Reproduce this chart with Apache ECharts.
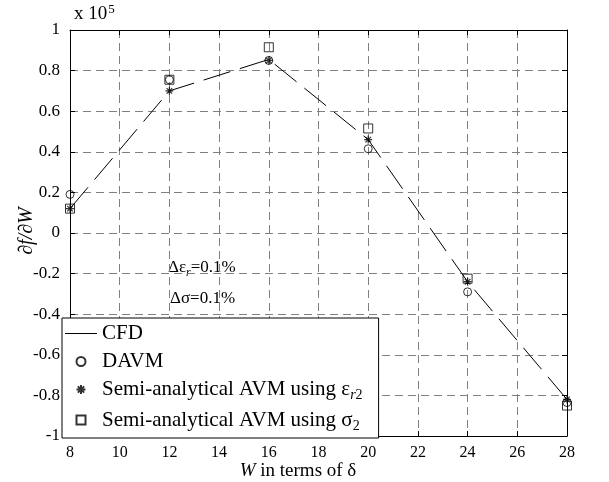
<!DOCTYPE html>
<html><head><meta charset="utf-8">
<script src="https://cdn.jsdelivr.net/npm/echarts@6/dist/echarts.min.js"></script>
<style>html,body{margin:0;padding:0;background:#fff}#c{width:609px;height:482px}</style>
</head><body><div id="c"></div>
<script>
var W = [8, 12, 16, 20, 24, 28];
var cfd = [0.12, 0.70, 0.855, 0.46, -0.24, -0.82];
var davm = [0.19, 0.755, 0.85, 0.415, -0.29, -0.835];
var semiEps = [0.12, 0.70, 0.85, 0.46, -0.24, -0.82];
var semiSigma = [0.12, 0.755, 0.915, 0.515, -0.225, -0.85];
var xTicks = [8, 10, 12, 14, 16, 18, 20, 22, 24, 26, 28];
var yTicks = [-1, -0.8, -0.6, -0.4, -0.2, 0, 0.2, 0.4, 0.6, 0.8, 1];

function pairs(ys){ return W.map(function(x,i){ return [x, ys[i]]; }); }
var font = 'Liberation Serif';
var star = 'path://M0,-5L0,5M-5,0L5,0M-3.5,-3.5L3.5,3.5M-3.5,3.5L3.5,-3.5';
var circ = 'path://M5,0A5,5,0,1,1,5,10A5,5,0,1,1,5,0Z';
var sq = 'path://M0,0L10,0L10,10L0,10Z';
var lineIcon = 'path://M0,0L32,0L32,1L0,1Z';

var chart = echarts.init(document.getElementById('c'), null, {renderer:'canvas'});
var grid = {left:70, right:42, top:30, bottom:46};
var gridLine = {show:true, lineStyle:{color:'#808080', type:[8,5], width:1}};
var subPad = [12,0,0,0];
chart.setOption({
  animation:false,
  backgroundColor:'#fff',
  grid: grid,
  xAxis: [{
    type:'value', min:8, max:28, interval:2,
    axisLine:{onZero:false, lineStyle:{color:'#000', width:1}},
    axisTick:{inside:true, length:5, lineStyle:{color:'#000'}},
    axisLabel:{color:'#000', fontFamily:font, fontSize:16, margin:9},
    splitLine: gridLine
  },{
    type:'value', position:'top', min:8, max:28, interval:2,
    axisLine:{onZero:false, lineStyle:{color:'#000', width:1}},
    axisTick:{inside:true, length:5, lineStyle:{color:'#000'}},
    axisLabel:{show:false}, splitLine:{show:false}
  }],
  yAxis: [{
    type:'value', min:-1, max:1, interval:0.2,
    axisLine:{onZero:false, lineStyle:{color:'#000', width:1}},
    axisTick:{inside:true, length:5, lineStyle:{color:'#000'}},
    axisLabel:{color:'#000', fontFamily:font, fontSize:17, margin:10,
      formatter:function(v){ return String(Math.round(v*10)/10); }},
    splitLine: gridLine
  },{
    type:'value', position:'right', min:-1, max:1, interval:0.2,
    axisLine:{onZero:false, lineStyle:{color:'#000', width:1}},
    axisTick:{inside:true, length:5, lineStyle:{color:'#000'}},
    axisLabel:{show:false}, splitLine:{show:false}
  }],
  legend: {
    orient:'vertical', left:62, top:318,
    backgroundColor:'#fff', borderColor:'#000', borderWidth:1,
    padding:[5,16,5,3], itemGap:7, itemWidth:32, itemHeight:9,
    textStyle:{fontFamily:font, fontSize:21, color:'#000',
      rich:{
        t:{fontFamily:font, fontSize:21, lineHeight:22, color:'#000'},
        s:{fontFamily:font, fontSize:14, color:'#000', verticalAlign:'bottom', padding:subPad},
        si:{fontFamily:font, fontSize:14, fontStyle:'italic', color:'#000', verticalAlign:'bottom', padding:subPad}
      }},
    formatter:function(n){
      if(n==='semiEps') return '{t|Semi-analytical AVM using ε}{si|r}{s|2}';
      if(n==='semiSigma') return '{t|Semi-analytical AVM using σ}{s|2}';
      return '{t|'+n+'}';
    },
    data:[
      {name:'CFD', icon:lineIcon, itemStyle:{color:'#000', borderWidth:0}},
      {name:'DAVM', icon:circ},
      {name:'semiEps', icon:star},
      {name:'semiSigma', icon:sq}
    ]
  },
  series: [
    {name:'CFD', type:'line', data:pairs(cfd), symbol:'none',
     lineStyle:{color:'#000', width:1, type:[28,10]}, itemStyle:{color:'#000'}, z:3},
    {name:'DAVM', type:'scatter', data:pairs(davm), symbol:circ, symbolSize:8,
     itemStyle:{color:'rgba(255,255,255,0)', borderColor:'#000', borderWidth:1}, z:4},
    {name:'semiEps', type:'scatter', data:pairs(semiEps), symbol:star, symbolSize:8,
     itemStyle:{color:'rgba(0,0,0,0)', borderColor:'#000', borderWidth:1.2}, z:5},
    {name:'semiSigma', type:'scatter', data:pairs(semiSigma), symbol:sq, symbolSize:9,
     itemStyle:{color:'rgba(255,255,255,0)', borderColor:'#000', borderWidth:1}, z:4}
  ],
  graphic: [
    {type:'text', left:74, top:3, style:{text:'x 10{e|5}', font:'19px "Liberation Serif"', fill:'#000',
      rich:{e:{fontFamily:font, fontSize:13, verticalAlign:'top', padding:[0,0,9,1]}}}},
    {type:'text', x:27, y:231, rotation:Math.PI/2, style:{text:'∂f/∂W', font:'italic 20px "Liberation Serif"', fill:'#000', align:'center', verticalAlign:'middle'}},
    {type:'text', x:298, y:471, style:{text:'{i|W} in terms of δ', font:'19px "Liberation Serif"', fill:'#000', align:'center', verticalAlign:'middle',
      rich:{i:{fontFamily:font, fontSize:19, fontStyle:'italic'}}}},
    {type:'text', left:168, top:259, style:{text:'Δε{s|r}=0.1%', font:'17px "Liberation Serif"', fill:'#000',
      rich:{s:{fontFamily:font, fontSize:12, fontStyle:'italic', verticalAlign:'bottom', padding:[10,0,0,0]}}}},
    {type:'text', left:170, top:290, style:{text:'Δσ=0.1%', font:'17px "Liberation Serif"', fill:'#000'}}
  ]
});
</script></body></html>
